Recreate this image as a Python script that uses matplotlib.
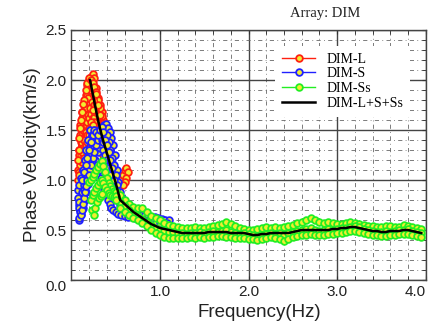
import matplotlib
matplotlib.use("Agg")
import matplotlib.pyplot as plt
from matplotlib.ticker import MultipleLocator

# DIM-L curves (frequency Hz, phase velocity km/s)
l1_f = [0.08, 0.10, 0.12, 0.14, 0.16, 0.18, 0.20, 0.22, 0.24, 0.26, 0.28, 0.30, 0.32, 0.34, 0.36, 0.38, 0.40, 0.42, 0.44]
l1_v = [1.30, 1.45, 1.62, 1.75, 1.85, 1.95, 2.00, 2.03, 2.06, 2.02, 1.92, 1.82, 1.75, 1.68, 1.60, 1.55, 1.50, 1.45, 1.40]
l2_f = [0.07, 0.09, 0.11, 0.13, 0.15, 0.17, 0.19, 0.21, 0.23, 0.25, 0.27, 0.29, 0.31, 0.33, 0.35, 0.37, 0.39, 0.41, 0.43]
l2_v = [1.10, 1.25, 1.38, 1.50, 1.62, 1.72, 1.82, 1.90, 1.95, 1.90, 1.80, 1.70, 1.62, 1.52, 1.45, 1.38, 1.30, 1.25, 1.20]
l3_f = [0.07, 0.09, 0.11, 0.13, 0.15, 0.17, 0.19, 0.21, 0.23, 0.25, 0.27, 0.29, 0.31, 0.33, 0.35, 0.37, 0.39, 0.41]
l3_v = [1.00, 1.08, 1.20, 1.32, 1.42, 1.55, 1.65, 1.72, 1.78, 1.75, 1.68, 1.58, 1.48, 1.40, 1.32, 1.25, 1.18, 1.12]
l4_f = [0.08, 0.10, 0.12, 0.14, 0.16, 0.18, 0.20, 0.22, 0.24, 0.26, 0.28, 0.30]
l4_v = [1.05, 1.15, 1.28, 1.40, 1.48, 1.58, 1.62, 1.66, 1.62, 1.58, 1.50, 1.42]
l5_f = [0.56, 0.58, 0.60, 0.62, 0.64, 0.62, 0.60, 0.58]
l5_v = [1.00, 1.05, 1.10, 1.12, 1.08, 1.02, 0.98, 0.95]
l6_f = [0.10, 0.12, 0.14, 0.16, 0.18, 0.20, 0.22, 0.24, 0.26, 0.28, 0.30, 0.32, 0.34, 0.36, 0.38]
l6_v = [1.55, 1.68, 1.80, 1.90, 1.97, 2.02, 2.00, 1.97, 1.93, 1.88, 1.80, 1.72, 1.64, 1.57, 1.50]
l7_f = [0.16, 0.18, 0.20, 0.22, 0.24, 0.26, 0.28, 0.30, 0.32, 0.34, 0.36]
l7_v = [1.35, 1.45, 1.52, 1.58, 1.70, 1.85, 1.86, 1.75, 1.65, 1.55, 1.45]
l8_f = [0.12, 0.14, 0.16, 0.18, 0.20, 0.22, 0.24, 0.26, 0.28, 0.30, 0.32, 0.34, 0.36, 0.38, 0.40]
l8_v = [1.18, 1.22, 1.30, 1.38, 1.45, 1.52, 1.55, 1.50, 1.45, 1.40, 1.35, 1.30, 1.25, 1.20, 1.15]
l9_f = [0.07, 0.08, 0.09, 0.10, 0.11, 0.12, 0.13]
l9_v = [1.20, 1.30, 1.42, 1.52, 1.60, 1.68, 1.76]

# DIM-S curves
s1_f = [0.07, 0.09, 0.11, 0.13, 0.15, 0.17, 0.19, 0.21, 0.23, 0.25, 0.27, 0.29, 0.31, 0.33, 0.35, 0.37, 0.39, 0.41, 0.43, 0.45,
        0.47, 0.49, 0.51, 0.53, 0.55, 0.57, 0.60, 0.63, 0.66, 0.70, 0.74, 0.78, 0.82, 0.86, 0.90, 0.94, 0.98, 1.02, 1.06, 1.10]
s1_v = [0.90, 0.95, 1.02, 1.10, 1.20, 1.30, 1.40, 1.50, 1.45, 1.42, 1.38, 1.42, 1.48, 1.52, 1.50, 1.55, 1.56, 1.52, 1.48, 1.42,
        1.35, 1.25, 1.10, 0.98, 0.88, 0.82, 0.76, 0.72, 0.70, 0.68, 0.66, 0.65, 0.64, 0.64, 0.63, 0.63, 0.62, 0.61, 0.60, 0.60]
s2_f = [0.08, 0.10, 0.12, 0.14, 0.16, 0.18, 0.20, 0.22, 0.24, 0.26, 0.28, 0.30, 0.32, 0.34, 0.36, 0.38, 0.40, 0.42, 0.44,
        0.46, 0.48, 0.50, 0.52, 0.55, 0.58, 0.61, 0.64, 0.68, 0.72, 0.76, 0.80, 0.84, 0.88, 0.92, 0.96, 1.00, 1.04, 1.08]
s2_v = [0.75, 0.80, 0.88, 0.95, 1.02, 1.10, 1.18, 1.25, 1.30, 1.32, 1.30, 1.28, 1.32, 1.35, 1.30, 1.25, 1.20, 1.12, 1.05,
        0.98, 0.92, 0.86, 0.80, 0.75, 0.70, 0.66, 0.64, 0.63, 0.62, 0.61, 0.60, 0.59, 0.58, 0.58, 0.58, 0.57, 0.57, 0.57]
s3_f = [0.08, 0.09, 0.11, 0.13, 0.15, 0.17, 0.19, 0.21, 0.23, 0.25, 0.27, 0.29, 0.31, 0.33, 0.35, 0.37, 0.39, 0.41, 0.43,
        0.45, 0.47, 0.50, 0.53, 0.56, 0.60, 0.64]
s3_v = [0.60, 0.62, 0.66, 0.72, 0.80, 0.88, 0.96, 1.05, 1.12, 1.18, 1.20, 1.15, 1.10, 1.02, 0.95, 0.90, 0.85, 0.80, 0.76,
        0.72, 0.70, 0.68, 0.66, 0.65, 0.64, 0.63]
s4_f = [0.10, 0.12, 0.14, 0.16, 0.18, 0.20, 0.22, 0.24, 0.26, 0.28, 0.30, 0.32, 0.34, 0.36, 0.38, 0.40, 0.42, 0.44,
        0.46, 0.48, 0.50, 0.52]
s4_v = [0.70, 0.80, 0.90, 0.98, 1.05, 1.10, 1.15, 1.22, 1.28, 1.35, 1.40, 1.45, 1.40, 1.38, 1.40, 1.45, 1.38, 1.30,
        1.22, 1.15, 1.05, 0.95]
s5_f = [0.12, 0.14, 0.16, 0.18, 0.20, 0.22, 0.24, 0.26, 0.28, 0.30, 0.32, 0.34, 0.36, 0.38, 0.40, 0.42, 0.44, 0.46, 0.48, 0.50]
s5_v = [1.00, 1.08, 1.15, 1.22, 1.30, 1.38, 1.45, 1.50, 1.48, 1.45, 1.50, 1.53, 1.48, 1.40, 1.35, 1.28, 1.20, 1.12, 1.00, 0.90]
s6_f = [0.07, 0.08, 0.09, 0.10, 0.11, 0.12, 0.13, 0.14, 0.15, 0.16, 0.18, 0.20]
s6_v = [0.82, 0.78, 0.72, 0.68, 0.65, 0.70, 0.76, 0.82, 0.88, 0.94, 1.00, 1.05]

# DIM-Ss curves
ssa_f = [0.20, 0.22, 0.24, 0.26, 0.28, 0.30, 0.32, 0.34, 0.36, 0.38, 0.40, 0.42, 0.44, 0.46, 0.48, 0.50]
ssa_v = [0.98, 1.00, 1.03, 1.06, 1.10, 1.13, 1.16, 1.19, 1.14, 1.08, 1.02, 0.97, 0.94, 0.91, 0.89, 0.88]
ssb_f = [0.22, 0.24, 0.26, 0.28, 0.30, 0.32, 0.34, 0.36, 0.38, 0.40, 0.42, 0.44, 0.46, 0.48, 0.50]
ssb_v = [0.80, 0.85, 0.88, 0.92, 0.95, 0.98, 1.00, 0.97, 0.93, 0.90, 0.87, 0.85, 0.84, 0.83, 0.82]
ssc_f = [0.23, 0.25, 0.27, 0.29, 0.31, 0.33, 0.35]
ssc_v = [0.70, 0.65, 0.72, 0.78, 0.82, 0.84, 0.86]

ss_f = [0.50, 0.55, 0.60, 0.65, 0.70, 0.75, 0.80, 0.85, 0.90, 0.95,
        1.00, 1.05, 1.10, 1.15, 1.20, 1.25, 1.30, 1.35, 1.40, 1.45,
        1.50, 1.55, 1.60, 1.65, 1.70, 1.75, 1.80, 1.85, 1.90, 1.95,
        2.00, 2.05, 2.10, 2.15, 2.20, 2.25, 2.30, 2.35, 2.40, 2.45,
        2.50, 2.55, 2.60, 2.65, 2.70, 2.75, 2.80, 2.85, 2.90, 2.95,
        3.00, 3.05, 3.10, 3.15, 3.20, 3.25, 3.30, 3.35, 3.40, 3.45,
        3.50, 3.55, 3.60, 3.65, 3.70, 3.75, 3.80, 3.85, 3.90, 3.95]
ss_hi = [0.88, 0.85, 0.80, 0.76, 0.73, 0.72, 0.72, 0.68, 0.64, 0.62,
         0.60, 0.57, 0.55, 0.54, 0.53, 0.52, 0.52, 0.52, 0.53, 0.52,
         0.52, 0.53, 0.54, 0.55, 0.56, 0.58, 0.56, 0.54, 0.52, 0.51,
         0.50, 0.50, 0.51, 0.52, 0.53, 0.52, 0.53, 0.52, 0.53, 0.54,
         0.55, 0.57, 0.58, 0.60, 0.62, 0.60, 0.58, 0.57, 0.58, 0.57,
         0.56, 0.56, 0.57, 0.58, 0.57, 0.56, 0.55, 0.54, 0.54, 0.53,
         0.53, 0.54, 0.54, 0.53, 0.53, 0.55, 0.54, 0.53, 0.52, 0.51]
ss_mid = [0.84, 0.78, 0.74, 0.70, 0.67, 0.64, 0.61, 0.58, 0.55, 0.52,
          0.50, 0.49, 0.48, 0.48, 0.47, 0.47, 0.46, 0.47, 0.47, 0.48,
          0.47, 0.48, 0.49, 0.48, 0.49, 0.50, 0.48, 0.47, 0.46, 0.47,
          0.46, 0.45, 0.44, 0.45, 0.46, 0.47, 0.46, 0.47, 0.45, 0.47,
          0.48, 0.49, 0.50, 0.51, 0.52, 0.50, 0.49, 0.50, 0.51, 0.50,
          0.51, 0.52, 0.52, 0.53, 0.54, 0.53, 0.51, 0.50, 0.49, 0.48,
          0.48, 0.49, 0.48, 0.49, 0.50, 0.50, 0.51, 0.49, 0.48, 0.47]
ss_lo = [0.80, 0.72, 0.68, 0.65, 0.62, 0.60, 0.57, 0.54, 0.50, 0.47,
         0.45, 0.43, 0.42, 0.42, 0.42, 0.42, 0.42, 0.43, 0.42, 0.43,
         0.42, 0.43, 0.43, 0.44, 0.44, 0.43, 0.43, 0.42, 0.42, 0.42,
         0.41, 0.41, 0.40, 0.41, 0.42, 0.43, 0.42, 0.41, 0.39, 0.41,
         0.43, 0.44, 0.45, 0.45, 0.46, 0.45, 0.45, 0.45, 0.46, 0.46,
         0.47, 0.47, 0.48, 0.49, 0.49, 0.48, 0.47, 0.46, 0.45, 0.45,
         0.44, 0.44, 0.45, 0.45, 0.46, 0.46, 0.46, 0.45, 0.44, 0.43]

# combined curve DIM-L+S+Ss
comb_f = [0.21, 0.25, 0.30, 0.35, 0.40, 0.45, 0.50, 0.55, 0.60, 0.65, 0.70, 0.75, 0.80, 0.85, 0.90, 0.95,
          1.00, 1.05, 1.10, 1.15, 1.20, 1.25, 1.30, 1.35, 1.40, 1.45, 1.50, 1.55, 1.60, 1.65, 1.70, 1.75,
          1.80, 1.85, 1.90, 1.95, 2.00, 2.05, 2.10, 2.15, 2.20, 2.25, 2.30, 2.35, 2.40, 2.45, 2.50, 2.55,
          2.60, 2.65, 2.70, 2.75, 2.80, 2.85, 2.90, 2.95, 3.00, 3.05, 3.10, 3.15, 3.20, 3.25, 3.30, 3.35,
          3.40, 3.45, 3.50, 3.55, 3.60, 3.65, 3.70, 3.75, 3.80, 3.85, 3.90, 3.95]
comb_v = [2.00, 1.82, 1.60, 1.42, 1.27, 1.12, 0.97, 0.80, 0.76, 0.72, 0.68, 0.65, 0.62, 0.59, 0.56, 0.54,
          0.52, 0.51, 0.50, 0.49, 0.48, 0.47, 0.47, 0.47, 0.47, 0.47, 0.47, 0.48, 0.48, 0.48, 0.48, 0.48,
          0.47, 0.47, 0.47, 0.47, 0.46, 0.45, 0.45, 0.46, 0.46, 0.47, 0.47, 0.47, 0.47, 0.47, 0.48, 0.49,
          0.50, 0.50, 0.50, 0.50, 0.50, 0.50, 0.50, 0.51, 0.51, 0.52, 0.52, 0.53, 0.53, 0.52, 0.51, 0.50,
          0.49, 0.49, 0.48, 0.48, 0.49, 0.49, 0.49, 0.50, 0.50, 0.49, 0.48, 0.47]

x_ticks = [1.0, 2.0, 3.0, 4.0]
y_ticks = [0.0, 0.5, 1.0, 1.5, 2.0, 2.5]

series = [
    ("DIM-L", "#ff2010", [(l1_f, l1_v), (l2_f, l2_v), (l3_f, l3_v), (l4_f, l4_v), (l5_f, l5_v),
                          (l6_f, l6_v), (l7_f, l7_v), (l8_f, l8_v), (l9_f, l9_v)]),
    ("DIM-S", "#2020ff", [(s1_f, s1_v), (s2_f, s2_v), (s3_f, s3_v), (s4_f, s4_v), (s5_f, s5_v), (s6_f, s6_v)]),
    ("DIM-Ss", "#22ee22", [(ssa_f, ssa_v), (ssb_f, ssb_v), (ssc_f, ssc_v),
                           (ss_f, ss_hi), (ss_f, ss_mid), (ss_f, ss_lo)]),
]

fig = plt.figure(figsize=(4.33, 3.26), dpi=100)
ax = fig.add_axes([0.165, 0.141, 0.818, 0.767])

for name, col, curves in series:
    for i, (f, v) in enumerate(curves):
        ax.plot(f, v, color=col, lw=1, marker="o", ms=4.8, mfc="#f2ee30",
                mec=col, mew=1.3, label=name if i == 0 else None, zorder=3)

ax.plot(comb_f, comb_v, color="black", lw=1.8, label="DIM-L+S+Ss", zorder=4)

ax.set_xlim(0, 4)
ax.set_ylim(0, 2.5)
ax.set_xticks(x_ticks)
ax.set_xticklabels([f"{t:.1f}" for t in x_ticks])
ax.set_yticks(y_ticks)
ax.set_yticklabels([f"{t:.1f}" for t in y_ticks])
ax.xaxis.set_minor_locator(MultipleLocator(0.2))
ax.yaxis.set_minor_locator(MultipleLocator(0.1))

ax.grid(which="major", color="#444444", lw=1.0, zorder=1)
ax.grid(which="minor", color="#666666", lw=0.6, ls=(0, (5, 4, 1, 4)), zorder=1)
ax.tick_params(which="both", direction="in", top=True, right=True, length=3,
               labelsize=11, colors="#333333", labelcolor="#222222")
for s in ax.spines.values():
    s.set_color("#444444")
    s.set_linewidth(1.0)
for lab in ax.get_xticklabels() + ax.get_yticklabels():
    lab.set_family("Liberation Sans")
# the last x label sits at the right edge, nudge it inward a little
ax.get_xticklabels()[-1].set_horizontalalignment("right")
ax.get_yticklabels()[0].set_verticalalignment("top")

ax.set_xlabel("Frequency(Hz)", fontsize=13.5, family="Liberation Sans", color="#222222", labelpad=1)
ax.set_ylabel("Phase Velocity(km/s)", fontsize=13.5, family="Liberation Sans", color="#222222", labelpad=3)
ax.xaxis.set_label_coords(0.53, -0.095)

leg = ax.legend(loc="upper left", bbox_to_anchor=(0.555, 0.965), numpoints=1,
                prop={"family": "Liberation Serif", "size": 10}, frameon=True,
                handlelength=2.4, handletextpad=0.8, labelspacing=0.12,
                borderpad=0.5, fancybox=False)
leg.get_frame().set_edgecolor("none")
leg.get_frame().set_facecolor("white")
leg.get_frame().set_alpha(1)
leg.set_zorder(5)

fig.text(0.75, 0.958, "Array: DIM", family="Liberation Serif", fontsize=10.5,
         ha="center", va="center", color="#222222")

fig.savefig("out.png", dpi=100)
